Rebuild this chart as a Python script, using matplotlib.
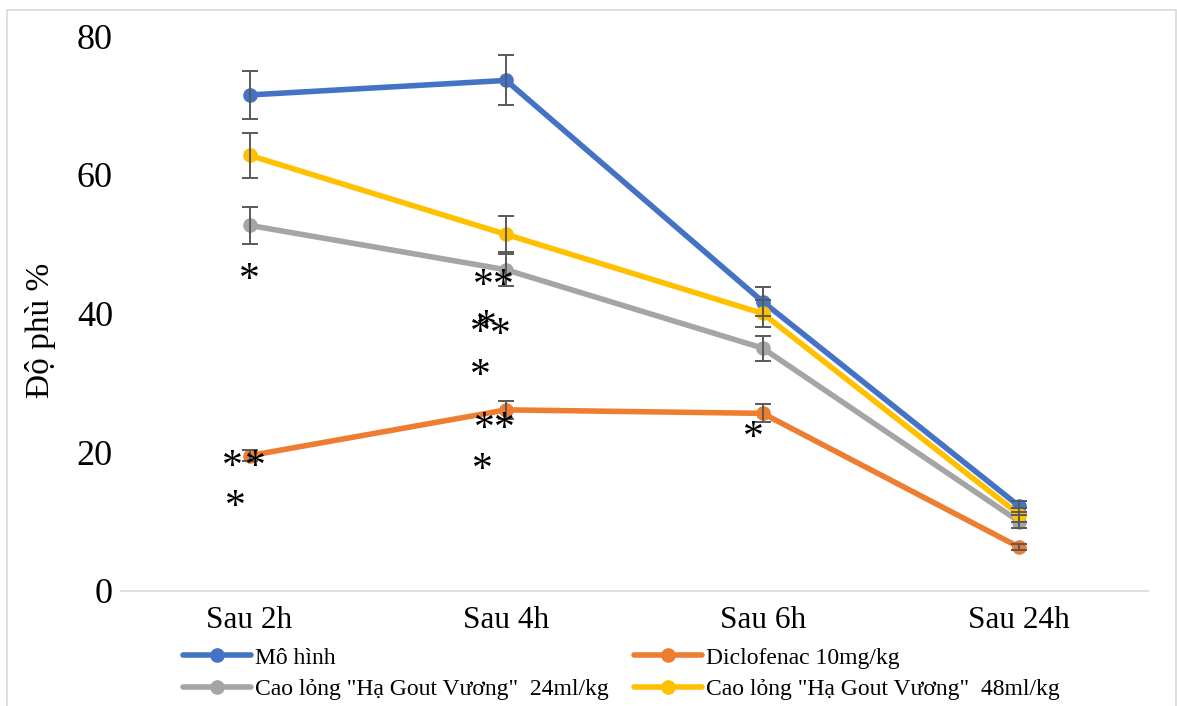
import matplotlib
matplotlib.use("Agg")
import matplotlib.pyplot as plt
from matplotlib.patches import Rectangle
from matplotlib.transforms import offset_copy

plt.rcParams['font.family'] = ['Liberation Serif', 'DejaVu Serif']

categories = ["Sau 2h", "Sau 4h", "Sau 6h", "Sau 24h"]
mo_hinh = [71.5, 73.6, 41.7, 12.2]
mo_hinh_err = [3.5, 3.6, 2.1, 0.8]
diclofenac = [19.5, 26.1, 25.6, 6.3]
diclofenac_err = [0.8, 1.3, 1.3, 0.4]
cao_24 = [52.7, 46.3, 35.0, 10.0]
cao_24_err = [2.7, 2.3, 1.8, 1.0]
cao_48 = [62.8, 51.4, 40.0, 11.0]
cao_48_err = [3.2, 2.6, 2.0, 1.0]

series = [
    ("Mô hình", mo_hinh, mo_hinh_err, "#4472C4"),
    ("Diclofenac 10mg/kg", diclofenac, diclofenac_err, "#ED7D31"),
    ('Cao lỏng "Hạ Gout Vương"  24ml/kg', cao_24, cao_24_err, "#A5A5A5"),
    ('Cao lỏng "Hạ Gout Vương"  48ml/kg', cao_48, cao_48_err, "#FFC000"),
]

# significance asterisks (category position, y value of glyph centre)
star_x = [0.0, -0.066, 0.023, -0.054, 0.911, 0.988, 0.899, 0.924, 0.977, 0.899, 0.915, 0.992, 0.907, 1.962]
star_y = [46.2, 19.3, 19.3, 13.5, 45.4, 45.4, 38.6, 39.5, 38.3, 32.4, 24.7, 24.7, 18.8, 23.4]

fig = plt.figure(figsize=(11.77, 7.06), dpi=100)
ax = fig.add_axes([0.103, 0.163, 0.872, 0.786])

x = list(range(len(categories)))
handles = []
for label, vals, errs, color in series:
    h, = ax.plot(x, vals, color=color, lw=4.0, marker='o', markersize=9.5,
                 label=label, zorder=3, solid_capstyle='round')
    ax.errorbar(x, vals, yerr=errs, fmt='none', ecolor='#595959',
                elinewidth=1.4, capsize=5.5, capthick=1.4, zorder=4)
    handles.append(h)

star_fs = 30
star_tr = offset_copy(ax.transData, fig=fig, x=0, y=-0.5 * star_fs, units='points')
for sx, sy in zip(star_x, star_y):
    ax.text(sx, sy, "*", ha='center', va='baseline', fontsize=star_fs,
            zorder=5, transform=star_tr)

ax.set_xlim(-0.5, 3.5)
ax.set_ylim(0, 80)
ax.set_yticks([0, 20, 40, 60, 80])
ax.set_xticks(x)
ax.set_xticklabels(categories)
ax.tick_params(axis='both', length=0)
ax.tick_params(axis='x', pad=11, labelsize=22.5)
ax.tick_params(axis='y', pad=6, labelsize=26)
for s in ['top', 'right', 'left']:
    ax.spines[s].set_visible(False)
ax.spines['bottom'].set_color('#D9D9D9')
ax.spines['bottom'].set_linewidth(1.2)
fig.text(40 / 1177, 1 - 330 / 706, "Độ phù %", rotation=90, fontsize=24,
         ha='center', va='center')

order = [0, 2, 1, 3]
leg = fig.legend([handles[i] for i in order], [series[i][0] for i in order],
                 ncol=2, loc='upper left', bbox_to_anchor=(183 / 1177, 1 - 647 / 706),
                 frameon=False, fontsize=17, handlelength=2.9,
                 handletextpad=0.15, columnspacing=1.05, labelspacing=0.42,
                 borderaxespad=0, borderpad=0)

fig.add_artist(Rectangle((7 / 1177, -0.02), 1169 / 1177, 1.02 - 10 / 706,
                         transform=fig.transFigure, fill=False,
                         edgecolor='#D9D9D9', lw=1.2))

fig.savefig("out.png", dpi=100)
